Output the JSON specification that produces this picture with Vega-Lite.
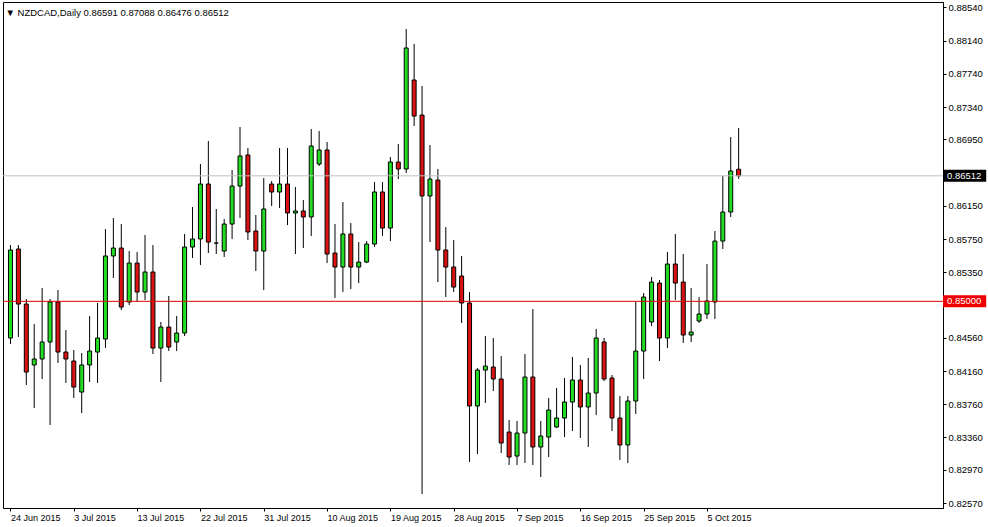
{
"$schema": "https://vega.github.io/schema/vega-lite/v6.json",
"width": 940, "height": 506,
"autosize": {"type": "none"},
"padding": {"left": 3, "top": 2, "right": 45, "bottom": 19},
"background": "white",
"title": {"text": "▼  NZDCAD,Daily  0.86591 0.87088 0.86476 0.86512", "anchor": "start", "offset": -15, "dx": 3, "fontSize": 9.5, "fontWeight": "normal", "font": "Liberation Sans", "color": "#000"},
"config": {"view": {"stroke": "#000", "strokeWidth": 1}, "font": "Liberation Sans", "axis": {"labelOverlap": false, "labelFlush": false, "grid": false}},
"datasets": {
"candles": [
{"i":0,"date":"2015-06-24","open":0.84558,"high":0.85678,"low":0.84486,"close":0.85618},
{"i":1,"date":"2015-06-25","open":0.85630,"high":0.85678,"low":0.84570,"close":0.84967},
{"i":2,"date":"2015-06-26","open":0.84967,"high":0.85028,"low":0.83992,"close":0.84148},
{"i":3,"date":"2015-06-28","open":0.84233,"high":0.84726,"low":0.83714,"close":0.84305},
{"i":4,"date":"2015-06-29","open":0.84305,"high":0.85160,"low":0.84064,"close":0.84510},
{"i":5,"date":"2015-06-30","open":0.84510,"high":0.85028,"low":0.83510,"close":0.84992},
{"i":6,"date":"2015-07-01","open":0.84992,"high":0.85136,"low":0.84257,"close":0.84389},
{"i":7,"date":"2015-07-02","open":0.84389,"high":0.84654,"low":0.84016,"close":0.84305},
{"i":8,"date":"2015-07-03","open":0.84281,"high":0.84413,"low":0.83835,"close":0.83967},
{"i":9,"date":"2015-07-05","open":0.83907,"high":0.84377,"low":0.83654,"close":0.84233},
{"i":10,"date":"2015-07-06","open":0.84233,"high":0.84823,"low":0.84028,"close":0.84401},
{"i":11,"date":"2015-07-07","open":0.84389,"high":0.84980,"low":0.84016,"close":0.84558},
{"i":12,"date":"2015-07-08","open":0.84546,"high":0.85871,"low":0.84437,"close":0.85546},
{"i":13,"date":"2015-07-09","open":0.85546,"high":0.86004,"low":0.85281,"close":0.85642},
{"i":14,"date":"2015-07-10","open":0.85642,"high":0.85931,"low":0.84895,"close":0.84931},
{"i":15,"date":"2015-07-12","open":0.84992,"high":0.85606,"low":0.84955,"close":0.85461},
{"i":16,"date":"2015-07-13","open":0.85461,"high":0.85594,"low":0.84992,"close":0.85112},
{"i":17,"date":"2015-07-14","open":0.85112,"high":0.85799,"low":0.85016,"close":0.85353},
{"i":18,"date":"2015-07-15","open":0.85353,"high":0.85678,"low":0.84365,"close":0.84437},
{"i":19,"date":"2015-07-16","open":0.84437,"high":0.84751,"low":0.84028,"close":0.84690},
{"i":20,"date":"2015-07-17","open":0.84690,"high":0.85064,"low":0.84401,"close":0.84449},
{"i":21,"date":"2015-07-19","open":0.84510,"high":0.84823,"low":0.84401,"close":0.84618},
{"i":22,"date":"2015-07-20","open":0.84618,"high":0.85811,"low":0.84582,"close":0.85654},
{"i":23,"date":"2015-07-21","open":0.85654,"high":0.86136,"low":0.85522,"close":0.85751},
{"i":24,"date":"2015-07-22","open":0.85751,"high":0.86654,"low":0.85437,"close":0.86413},
{"i":25,"date":"2015-07-23","open":0.86413,"high":0.86931,"low":0.85582,"close":0.85714},
{"i":26,"date":"2015-07-24","open":0.85702,"high":0.86112,"low":0.85570,"close":0.85702},
{"i":27,"date":"2015-07-26","open":0.85606,"high":0.85992,"low":0.85534,"close":0.85931},
{"i":28,"date":"2015-07-27","open":0.85931,"high":0.86582,"low":0.85751,"close":0.86389},
{"i":29,"date":"2015-07-28","open":0.86389,"high":0.87100,"low":0.86004,"close":0.86751},
{"i":30,"date":"2015-07-29","open":0.86763,"high":0.86847,"low":0.85739,"close":0.85835},
{"i":31,"date":"2015-07-30","open":0.85847,"high":0.86040,"low":0.85365,"close":0.85606},
{"i":32,"date":"2015-07-31","open":0.85606,"high":0.86486,"low":0.85136,"close":0.86112},
{"i":33,"date":"2015-08-02","open":0.86413,"high":0.86449,"low":0.86148,"close":0.86317},
{"i":34,"date":"2015-08-03","open":0.86317,"high":0.86847,"low":0.86124,"close":0.86413},
{"i":35,"date":"2015-08-04","open":0.86413,"high":0.86847,"low":0.85919,"close":0.86064},
{"i":36,"date":"2015-08-05","open":0.86064,"high":0.86377,"low":0.85570,"close":0.86088},
{"i":37,"date":"2015-08-06","open":0.86088,"high":0.86220,"low":0.85642,"close":0.86016},
{"i":38,"date":"2015-08-07","open":0.86016,"high":0.87076,"low":0.85787,"close":0.86871},
{"i":39,"date":"2015-08-09","open":0.86654,"high":0.87052,"low":0.86630,"close":0.86823},
{"i":40,"date":"2015-08-10","open":0.86823,"high":0.86919,"low":0.85461,"close":0.85570},
{"i":41,"date":"2015-08-11","open":0.85582,"high":0.85931,"low":0.85040,"close":0.85413},
{"i":42,"date":"2015-08-12","open":0.85413,"high":0.86196,"low":0.85112,"close":0.85811},
{"i":43,"date":"2015-08-13","open":0.85811,"high":0.85943,"low":0.85148,"close":0.85413},
{"i":44,"date":"2015-08-14","open":0.85413,"high":0.85714,"low":0.85220,"close":0.85473},
{"i":45,"date":"2015-08-16","open":0.85473,"high":0.85726,"low":0.85461,"close":0.85690},
{"i":46,"date":"2015-08-17","open":0.85690,"high":0.86437,"low":0.85654,"close":0.86317},
{"i":47,"date":"2015-08-18","open":0.86317,"high":0.86437,"low":0.85787,"close":0.85883},
{"i":48,"date":"2015-08-19","open":0.85883,"high":0.86739,"low":0.85726,"close":0.86678},
{"i":49,"date":"2015-08-20","open":0.86678,"high":0.86895,"low":0.86473,"close":0.86594},
{"i":50,"date":"2015-08-21","open":0.86594,"high":0.88281,"low":0.86546,"close":0.88052},
{"i":51,"date":"2015-08-23","open":0.87666,"high":0.88100,"low":0.87112,"close":0.87232},
{"i":52,"date":"2015-08-24","open":0.87244,"high":0.87594,"low":0.82678,"close":0.86269},
{"i":53,"date":"2015-08-25","open":0.86269,"high":0.86883,"low":0.85714,"close":0.86473},
{"i":54,"date":"2015-08-26","open":0.86461,"high":0.86594,"low":0.85232,"close":0.85618},
{"i":55,"date":"2015-08-27","open":0.85618,"high":0.85895,"low":0.85052,"close":0.85413},
{"i":56,"date":"2015-08-28","open":0.85413,"high":0.85739,"low":0.85112,"close":0.85172},
{"i":57,"date":"2015-08-30","open":0.85305,"high":0.85546,"low":0.84739,"close":0.84980},
{"i":58,"date":"2015-08-31","open":0.84980,"high":0.85112,"low":0.83064,"close":0.83739},
{"i":59,"date":"2015-09-01","open":0.83739,"high":0.84196,"low":0.83160,"close":0.84172},
{"i":60,"date":"2015-09-02","open":0.84172,"high":0.84582,"low":0.83775,"close":0.84220},
{"i":61,"date":"2015-09-03","open":0.84208,"high":0.84558,"low":0.83919,"close":0.84064},
{"i":62,"date":"2015-09-04","open":0.84064,"high":0.84341,"low":0.83172,"close":0.83293},
{"i":63,"date":"2015-09-06","open":0.83425,"high":0.83570,"low":0.83028,"close":0.83124},
{"i":64,"date":"2015-09-07","open":0.83136,"high":0.83558,"low":0.83028,"close":0.83413},
{"i":65,"date":"2015-09-08","open":0.83413,"high":0.84365,"low":0.83052,"close":0.84088},
{"i":66,"date":"2015-09-09","open":0.84088,"high":0.84907,"low":0.83028,"close":0.83245},
{"i":67,"date":"2015-09-10","open":0.83245,"high":0.83558,"low":0.82883,"close":0.83377},
{"i":68,"date":"2015-09-11","open":0.83365,"high":0.83835,"low":0.83124,"close":0.83690},
{"i":69,"date":"2015-09-13","open":0.83486,"high":0.83955,"low":0.83473,"close":0.83594},
{"i":70,"date":"2015-09-14","open":0.83594,"high":0.84076,"low":0.83365,"close":0.83787},
{"i":71,"date":"2015-09-15","open":0.83787,"high":0.84329,"low":0.83437,"close":0.84052},
{"i":72,"date":"2015-09-16","open":0.84052,"high":0.84233,"low":0.83353,"close":0.83727},
{"i":73,"date":"2015-09-17","open":0.83727,"high":0.84317,"low":0.83245,"close":0.83895},
{"i":74,"date":"2015-09-18","open":0.83895,"high":0.84666,"low":0.83631,"close":0.84558},
{"i":75,"date":"2015-09-20","open":0.84510,"high":0.84558,"low":0.84040,"close":0.84064},
{"i":76,"date":"2015-09-21","open":0.84076,"high":0.84112,"low":0.83437,"close":0.83594},
{"i":77,"date":"2015-09-22","open":0.83594,"high":0.83859,"low":0.83088,"close":0.83269},
{"i":78,"date":"2015-09-23","open":0.83269,"high":0.83859,"low":0.83052,"close":0.83799},
{"i":79,"date":"2015-09-24","open":0.83799,"high":0.84992,"low":0.83642,"close":0.84401},
{"i":80,"date":"2015-09-25","open":0.84401,"high":0.85100,"low":0.84064,"close":0.85052},
{"i":81,"date":"2015-09-27","open":0.84751,"high":0.85293,"low":0.84702,"close":0.85232},
{"i":82,"date":"2015-09-28","open":0.85220,"high":0.85257,"low":0.84281,"close":0.84558},
{"i":83,"date":"2015-09-29","open":0.84558,"high":0.85594,"low":0.84437,"close":0.85449},
{"i":84,"date":"2015-09-30","open":0.85449,"high":0.85811,"low":0.85016,"close":0.85220},
{"i":85,"date":"2015-10-01","open":0.85232,"high":0.85570,"low":0.84498,"close":0.84594},
{"i":86,"date":"2015-10-02","open":0.84594,"high":0.85160,"low":0.84510,"close":0.84630},
{"i":87,"date":"2015-10-04","open":0.84763,"high":0.85052,"low":0.84739,"close":0.84847},
{"i":88,"date":"2015-10-05","open":0.84847,"high":0.85449,"low":0.84787,"close":0.85004},
{"i":89,"date":"2015-10-06","open":0.84992,"high":0.85847,"low":0.84787,"close":0.85726},
{"i":90,"date":"2015-10-07","open":0.85726,"high":0.86510,"low":0.85630,"close":0.86076},
{"i":91,"date":"2015-10-08","open":0.86076,"high":0.86979,"low":0.86016,"close":0.86570},
{"i":92,"date":"2015-10-09","open":0.86591,"high":0.87088,"low":0.86476,"close":0.86512}
],
"levels": [
{"price": 0.86512, "kind": "current"},
{"price": 0.85000, "kind": "level"}
]
},
"layer": [
{
"data": {"name": "candles"},
"mark": {"type": "rule", "color": "#000", "strokeWidth": 1},
"encoding": {
"x": {"field": "i", "type": "quantitative",
 "scale": {"domain": [-0.3125, 117.1875], "nice": false, "zero": false},
 "axis": {"title": null, "values": [0,8,16,24,32,40,48,56,64,72,80,88], "tickCount": 40,
  "labelExpr": "['24 Jun 2015','3 Jul 2015','13 Jul 2015','22 Jul 2015','31 Jul 2015','10 Aug 2015','19 Aug 2015','28 Aug 2015','7 Sep 2015','16 Sep 2015','25 Sep 2015','5 Oct 2015'][datum.value/8]",
  "labelAlign": "left", "labelPadding": 2, "tickSize": 3, "labelFontSize": 9, "labelColor": "#000", "domainColor": "#000", "tickColor": "#000"}},
"y": {"field": "low", "type": "quantitative",
 "scale": {"domain": [0.8251, 0.88606], "nice": false, "zero": false},
 "axis": {"orient": "right", "title": null, "tickCount": 40,
  "values": [0.8854,0.8814,0.8774,0.8734,0.8695,0.8615,0.8575,0.8535,0.8456,0.8416,0.8376,0.8336,0.8297,0.8257],
  "format": ".5f", "tickSize": 3, "labelPadding": 2, "labelFontSize": 9.5, "labelColor": "#000", "domainColor": "#000", "tickColor": "#000"}},
"y2": {"field": "high"}
}
},
{
"data": {"name": "candles"},
"mark": {"type": "bar", "size": 4, "stroke": "#000", "strokeWidth": 1},
"encoding": {
"x": {"field": "i", "type": "quantitative"},
"y": {"field": "open", "type": "quantitative"},
"y2": {"field": "close"},
"color": {"condition": {"test": "datum.close >= datum.open", "value": "#22dd22"}, "value": "#dd1111"}
}
},
{
"data": {"name": "levels"},
"mark": {"type": "rule", "strokeWidth": 1},
"encoding": {
"y": {"field": "price", "type": "quantitative"},
"color": {"condition": {"test": "datum.kind == 'current'", "value": "#c0c0c0"}, "value": "#e00000"}
}
},
{
"data": {"name": "levels"},
"mark": {"type": "point", "filled": true, "opacity": 1, "strokeWidth": 0, "shape": "M0,-1H7.2V1H0Z", "size": 144},
"encoding": {
"x": {"value": "width"},
"y": {"field": "price", "type": "quantitative"},
"color": {"condition": {"test": "datum.kind == 'current'", "value": "#000000"}, "value": "#ee0000"}
}
},
{
"data": {"name": "levels"},
"mark": {"type": "text", "dx": 4, "align": "left", "baseline": "middle", "color": "#ffffff", "fontSize": 9.5, "font": "Liberation Sans"},
"encoding": {
"x": {"value": "width"},
"y": {"field": "price", "type": "quantitative"},
"text": {"field": "price", "type": "quantitative", "format": ".5f"}
}
}
]
}
